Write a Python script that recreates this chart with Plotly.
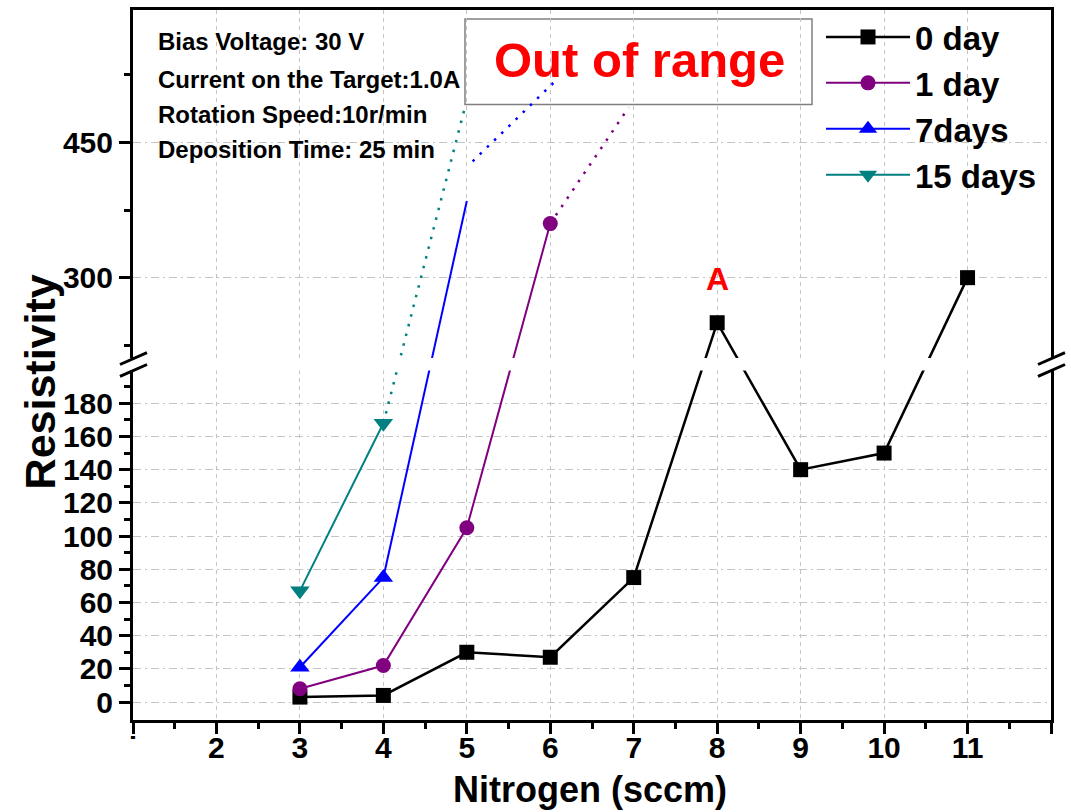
import plotly.graph_objects as go

# ---- data -------------------------------------------------------------
nitrogen_0 = [3, 4, 5, 6, 7, 8, 9, 10, 11]
res_0day = [3, 4, 30, 27, 75, 250, 140, 150, 300]

nitrogen_1 = [3, 4, 5, 6]
res_1day = [8, 22, 105, 360]

nitrogen_7 = [3, 4, 5]
res_7days = [21, 75, 385]

nitrogen_15 = [3, 4]
res_15days = [67, 168]

# dotted trends running off the top of the scale
trend_1day_x = [6, 6.94]
trend_1day_y = [360, 489]
trend_7days_x = [5.07, 6.07]
trend_7days_y = [429, 519]
trend_15days_x = [4, 4.98]
trend_15days_y = [168, 490]

x_ticks = list(range(1, 13))
x_ticktext = ["˙", "2", "3", "4", "5", "6", "7", "8", "9", "10", "11", ""]
y_low_ticks = list(range(0, 200, 20))
y_low_minor = list(range(10, 200, 20))
y_high_ticks = [300, 450]
y_high_labels = ["300", "450"]
y_high_minor = [225, 375, 525]
y_top = 597

# ---- broken y scale: compressed above the break -------------------------
BREAK = 203
PX_LOW = 1.667   # px per unit below the break
PX_HIGH = 0.905  # px per unit above the break
RATIO = PX_HIGH / PX_LOW


def scale(v):
    return v if v <= BREAK else BREAK + (v - BREAK) * RATIO


def scaled(values):
    return [scale(v) for v in values]


# ---- page geometry ------------------------------------------------------
W, H = 1071, 812
PL, PR, PT, PB = 133, 1051, 7, 720


def px_x(x):
    return (x - PL) / (PR - PL)


def px_y(y):
    return (PB - y) / (PB - PT)


FONT = "Liberation Sans, Arial, sans-serif"
BLACK, PURPLE, BLUE, TEAL = "#000000", "#800080", "#0000ff", "#008080"
DOTS = "2.5px,7.5px"

fig = go.Figure()

fig.add_trace(go.Scatter(
    x=nitrogen_0, y=scaled(res_0day), name="0 day", mode="lines+markers",
    line=dict(color=BLACK, width=2.5),
    marker=dict(symbol="square", size=15, color=BLACK),
    legendgroup="g0"))
fig.add_trace(go.Scatter(
    x=nitrogen_1, y=scaled(res_1day), name="1 day", mode="lines+markers",
    line=dict(color=PURPLE, width=2),
    marker=dict(symbol="circle", size=15, color=PURPLE),
    legendgroup="g1"))
fig.add_trace(go.Scatter(
    x=nitrogen_7[:2], y=scaled(res_7days[:2]), name="7days", mode="lines+markers",
    line=dict(color=BLUE, width=2),
    marker=dict(symbol="triangle-up", size=17, color=BLUE),
    legendgroup="g7"))
fig.add_trace(go.Scatter(
    x=nitrogen_15, y=scaled(res_15days), name="15 days", mode="lines+markers",
    line=dict(color=TEAL, width=2),
    marker=dict(symbol="triangle-down", size=17, color=TEAL),
    legendgroup="g15"))

# 7days continues past the last measured marker
fig.add_trace(go.Scatter(
    x=nitrogen_7[1:], y=scaled(res_7days[1:]), mode="lines",
    line=dict(color=BLUE, width=2), showlegend=False, hoverinfo="skip"))

for tx, ty, col in [(trend_1day_x, trend_1day_y, PURPLE),
                    (trend_7days_x, trend_7days_y, BLUE),
                    (trend_15days_x, trend_15days_y, TEAL)]:
    fig.add_trace(go.Scatter(
        x=tx, y=scaled(ty), mode="lines",
        line=dict(color=col, width=2.5, dash=DOTS),
        showlegend=False, hoverinfo="skip"))

# ---- shapes -------------------------------------------------------------
shapes = []
# white panels behind the text blocks (above the grid, below the data)
for x0, x1, y0, y1 in [(PL + 2, 476, PT + 2, 203), (815, PR - 2, PT + 2, 195)]:
    shapes.append(dict(type="rect", xref="paper", yref="paper",
                       x0=px_x(x0), x1=px_x(x1), y0=px_y(y1), y1=px_y(y0),
                       fillcolor="white", line=dict(width=0), layer="between"))
# "Out of range" box
shapes.append(dict(type="rect", xref="paper", yref="paper",
                   x0=px_x(465), x1=px_x(812), y0=px_y(102), y1=px_y(16),
                   fillcolor="white", line=dict(color="#808080", width=1.5),
                   layer="between"))
# axis break: white band plus double slashes on both spines
shapes.append(dict(type="rect", xref="paper", yref="paper",
                   x0=px_x(PL - 6), x1=px_x(PR + 6), y0=px_y(369), y1=px_y(356.5),
                   fillcolor="white", line=dict(width=0), layer="above"))
for ax in (PL, PR):
    for dy in (0, 12):
        shapes.append(dict(type="line", xref="paper", yref="paper",
                           x0=px_x(ax - 13), y0=px_y(363 + dy),
                           x1=px_x(ax + 14), y1=px_y(351 + dy),
                           line=dict(color=BLACK, width=3), layer="above"))

# ---- annotations --------------------------------------------------------
notes = ["Bias Voltage: 30 V", "Current on the Target:1.0A",
         "Rotation Speed:10r/min", "Deposition Time: 25 min"]
note_y = [39, 77, 112, 147]
annotations = []
for txt, yy in zip(notes, note_y):
    annotations.append(dict(
        text=txt, xref="paper", yref="paper", x=px_x(156), y=px_y(yy),
        xanchor="left", yanchor="middle", showarrow=False,
        font=dict(family=FONT, size=24, color=BLACK, weight="bold")))

annotations.append(dict(
    text="Out of range", xref="paper", yref="paper",
    x=px_x(639), y=px_y(57), xanchor="center", yanchor="middle",
    showarrow=False, font=dict(family=FONT, size=49, color="#ff0000", weight="bold")))

annotations.append(dict(
    text="A", x=nitrogen_0[5], y=scale(res_0day[5]), yshift=44,
    xanchor="center", yanchor="middle", showarrow=False,
    font=dict(family=FONT, size=32, color="#ff0000", weight="bold")))

annotations.append(dict(
    text="Resistivity", xref="paper", yref="paper", x=px_x(40), y=px_y(381),
    xanchor="center", yanchor="middle", textangle=-90, showarrow=False,
    font=dict(family=FONT, size=43, color=BLACK, weight="bold")))
annotations.append(dict(
    text="Nitrogen (sccm)", xref="paper", yref="paper", x=px_x(590), y=px_y(790),
    xanchor="center", yanchor="middle", showarrow=False,
    font=dict(family=FONT, size=36, color=BLACK, weight="bold")))

# ---- axes ---------------------------------------------------------------
tickfont = dict(family=FONT, size=30, color=BLACK, weight="bold")

fig.update_xaxes(
    range=[1, 12], tickmode="array", tickvals=x_ticks, ticktext=x_ticktext,
    ticks="outside", ticklen=11, tickwidth=3, tickcolor=BLACK,
    ticklabelstandoff=-12,
    showline=True, linewidth=3, linecolor=BLACK, mirror=True,
    showgrid=True, gridcolor="#c4c4c4", gridwidth=1, griddash="4px,4px",
    zeroline=False, tickfont=tickfont,
    minor=dict(tickvals=[v + 0.5 for v in x_ticks[:-1]], ticks="outside",
               ticklen=6, tickwidth=3, tickcolor=BLACK, showgrid=False))

fig.update_yaxes(
    range=[-10.8, scale(y_top)], tickmode="array",
    tickvals=scaled(y_low_ticks + y_high_ticks),
    ticktext=[str(v) for v in y_low_ticks] + y_high_labels,
    ticks="outside", ticklen=11, tickwidth=3, tickcolor=BLACK,
    showline=True, linewidth=3, linecolor=BLACK, mirror=True,
    showgrid=True, gridcolor="#c4c4c4", gridwidth=1, griddash="8px,4px,2px,4px",
    zeroline=False, tickfont=tickfont,
    minor=dict(tickvals=scaled(y_low_minor + y_high_minor), ticks="outside",
               ticklen=6, tickwidth=3, tickcolor=BLACK, showgrid=False))

fig.update_layout(
    width=W, height=H,
    margin=dict(l=PL, r=W - PR, t=PT, b=H - PB, pad=0),
    paper_bgcolor="white", plot_bgcolor="white",
    shapes=shapes, annotations=annotations,
    legend=dict(x=px_x(821), y=px_y(6), xanchor="left", yanchor="top",
                bgcolor="rgba(0,0,0,0)", borderwidth=0,
                font=dict(family=FONT, size=33, color=BLACK, weight="bold"),
                itemwidth=84, tracegroupgap=0, traceorder="grouped"),
    showlegend=True,
)

fig.write_html("out.html")
